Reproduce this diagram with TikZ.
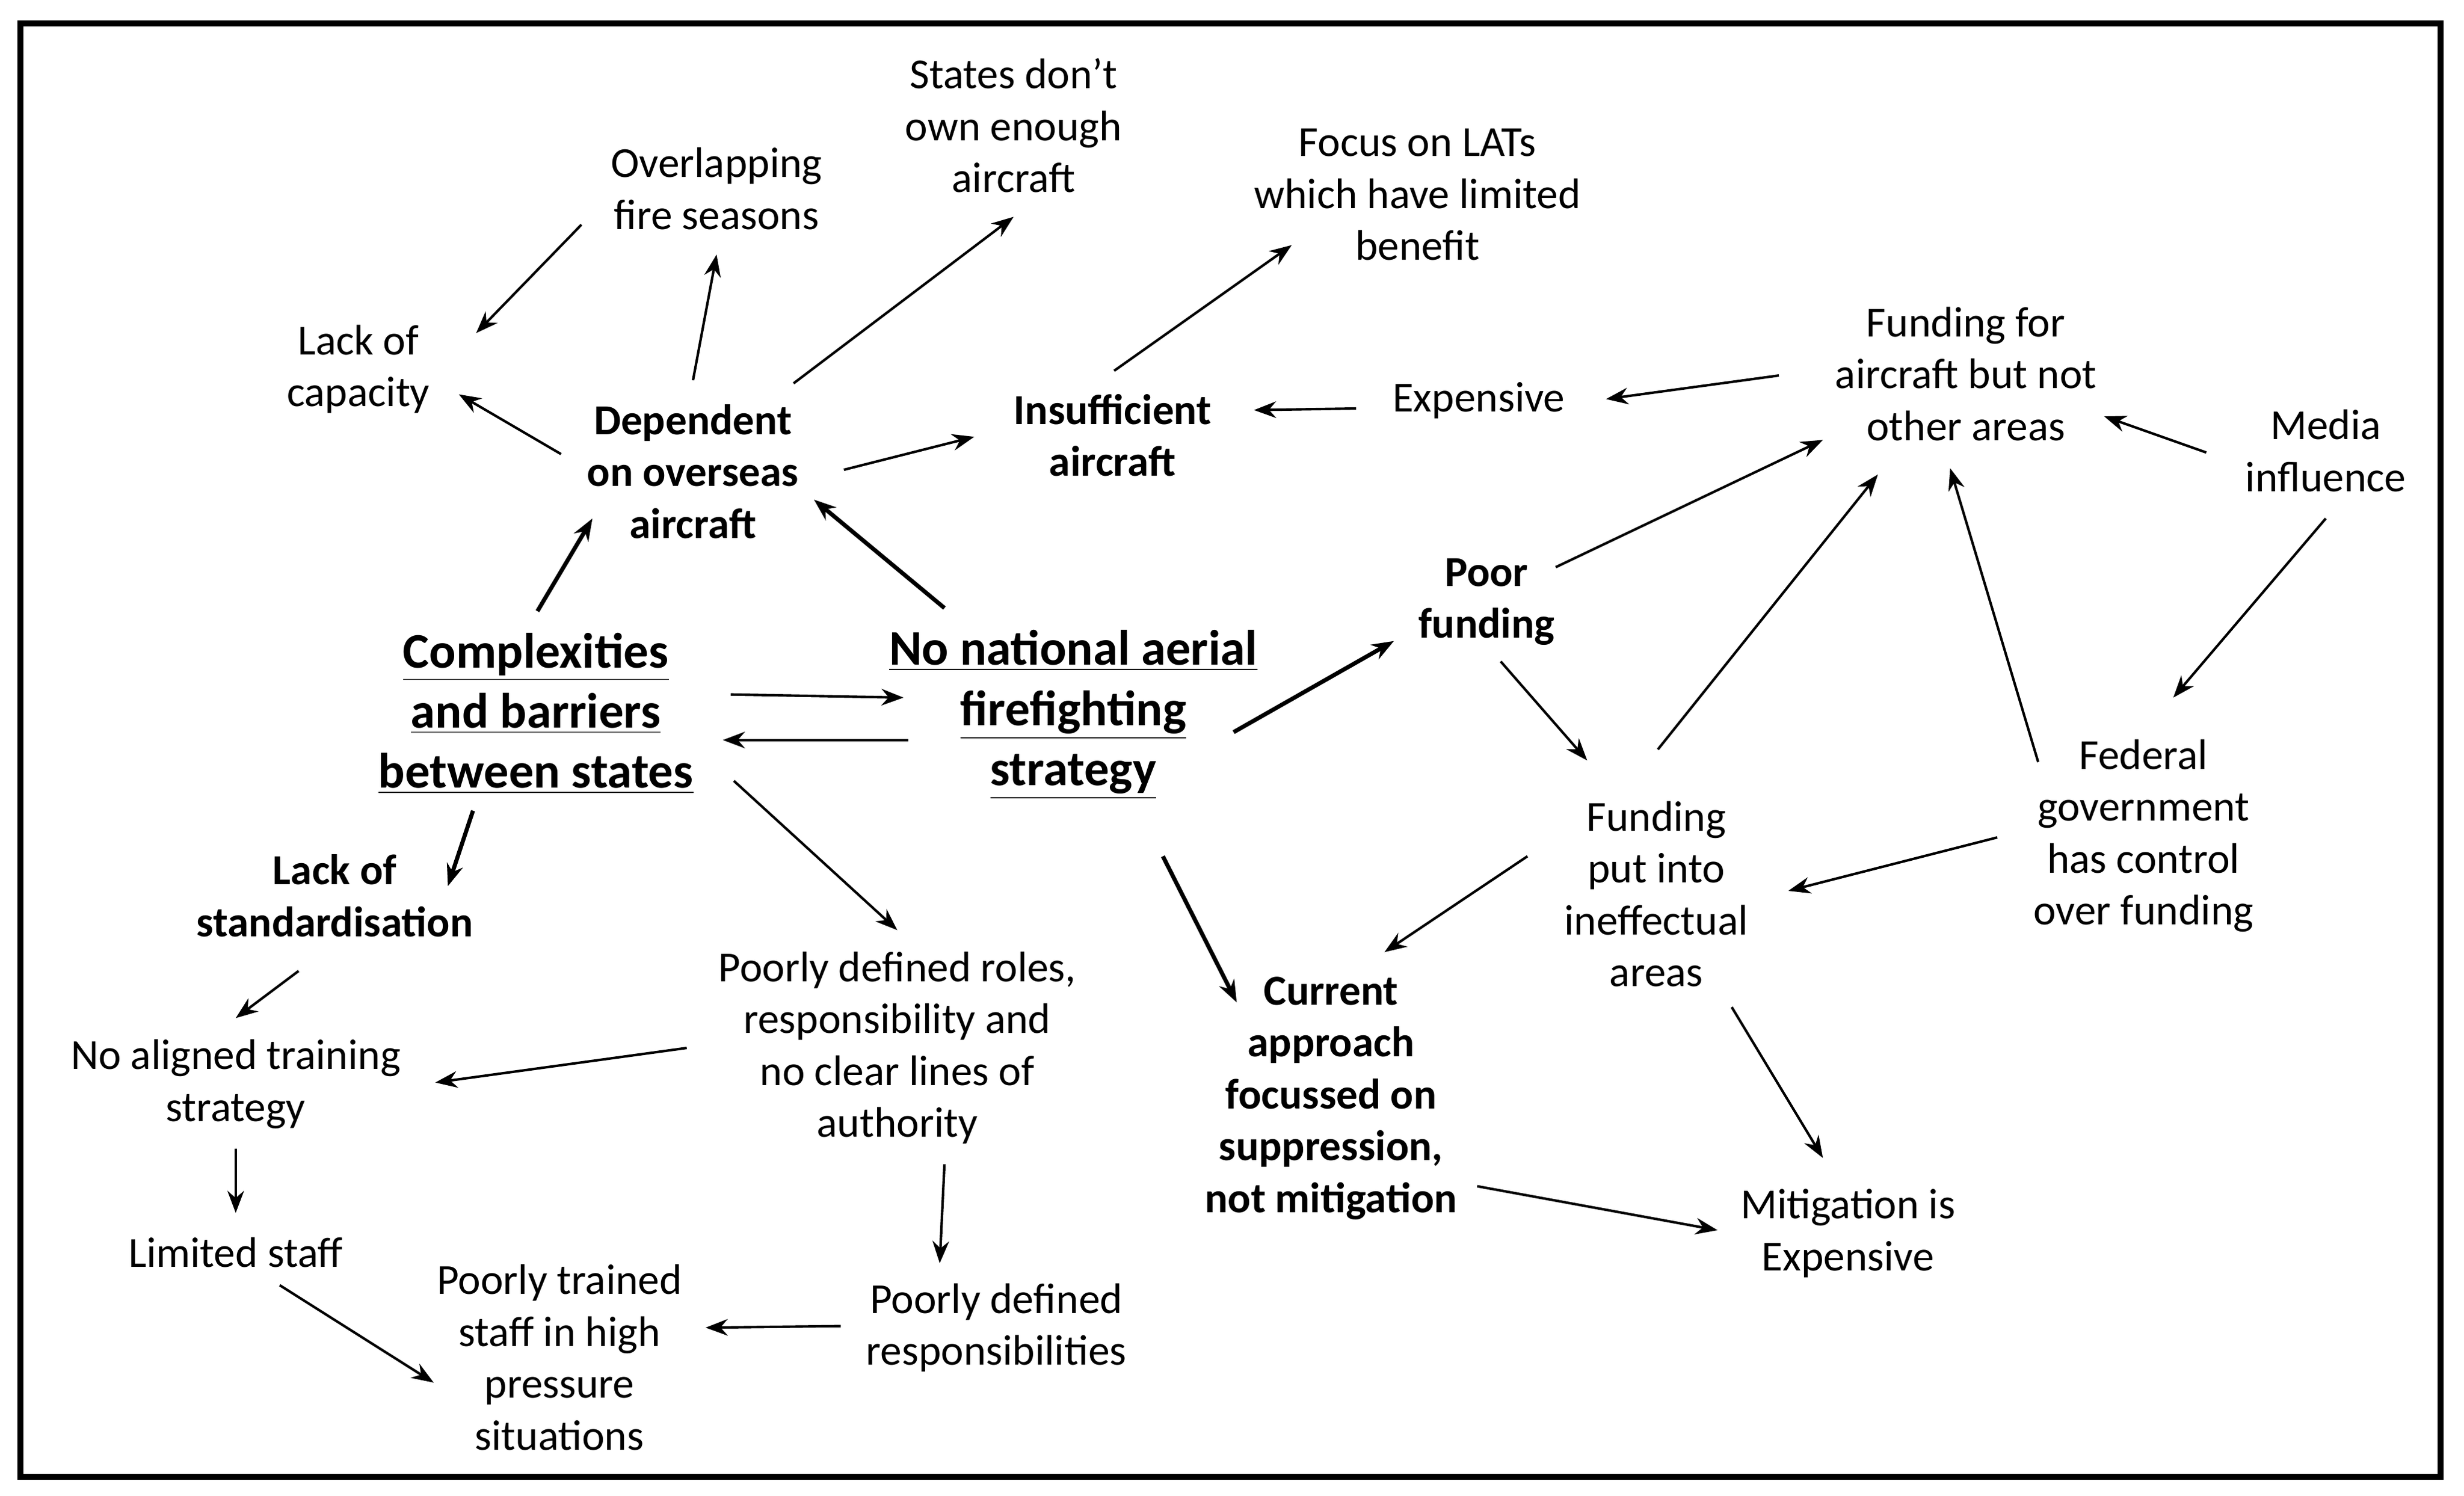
\documentclass[tikz,border=0pt]{standalone}
\usepackage{fontspec}
\setmainfont{Carlito}
\usetikzlibrary{arrows.meta}
\newcommand{\conn}[5][ar]{%
  \coordinate (#2s) at #4; \coordinate (#3e) at #5;
  \draw[#1] (#2s) -- (#3e);}
\begin{document}
\begin{tikzpicture}[x=0.2mm,y=-0.2mm,
  every node/.style={align=center,inner sep=3pt,font=\fontsize{15.5}{18.8}\selectfont},
  b/.style={font=\fontsize{15.5}{18.8}\selectfont\bfseries},
  big/.style={font=\fontsize{18}{21.8}\selectfont\bfseries},
  ar/.style={-{Stealth[length=8pt,width=6pt]},line width=0.9pt},
  tk/.style={ar,line width=1.5pt}]
\useasboundingbox (0,0) rectangle (1568,952);
\draw[line width=2.2pt] (13,15) rectangle (1553,940);
\node[big] (cx) at (341,454) {\underline{Complexities}\\\underline{and barriers}\\\underline{between states}};
\node[big] (nn) at (683,455) {\underline{No national aerial}\\\underline{firefighting}\\\underline{strategy}};
\node[b] (dep) at (441,300) {Dependent\\on overseas\\aircraft};
\node (ov) at (456,120) {Overlapping\\fire seasons};
\node (st) at (645,80) {States don’t\\own enough\\aircraft};
\node (lc) at (228,235) {Lack of\\capacity};
\node[b] (ins) at (708,277) {Insufficient\\aircraft};
\node (foc) at (902,124) {Focus on LATs\\which have limited\\benefit};
\node (exp) at (941,255) {Expensive};
\node (ff) at (1251,238) {Funding for\\aircraft but not\\other areas};
\node (med) at (1480,287) {Media\\influence};
\node[b] (pf) at (946,383) {Poor\\funding};
\node (fp) at (1054,569) {Funding\\put into\\ineffectual\\areas};
\node (fed) at (1364,532) {Federal\\government\\has control\\over funding};
\node[b] (cur) at (847,699) {Current\\approach\\focussed on\\suppression,\\not mitigation};
\node (mit) at (1176,785) {Mitigation is\\Expensive};
\node[b] (ls) at (213,570) {Lack of\\standardisation};
\node (na) at (150,690) {No aligned training\\strategy};
\node (lim) at (150,797) {Limited staff};
\node (pt) at (356,864) {Poorly trained\\staff in high\\pressure\\situations};
\node (pr) at (571,667) {Poorly defined roles,\\responsibility and\\no clear lines of\\authority};
\node (pd) at (634,845) {Poorly defined\\responsibilities};

\conn{ov}{lc}{(370,143)}{(303,212)}
\conn{dep}{ov}{(441,242)}{(456,162)}
\conn{dep}{st}{(505,244)}{(645,138)}
\conn{dep}{lc}{(357,289)}{(292,251)}
\conn{dep}{ins}{(537,299)}{(620,278)}
\conn{ins}{foc}{(709,236)}{(822,156)}
\conn{exp}{ins}{(863,260)}{(798,261)}
\conn{ff}{exp}{(1132,239)}{(1022,254)}
\conn{med}{ff}{(1404,288)}{(1339,265)}
\conn{med}{fed}{(1480,330)}{(1383,444)}
\conn{pf}{ff}{(990,361)}{(1160,280)}
\conn{pf}{fp}{(955,421)}{(1010,484)}
\conn{fp}{ff}{(1055,477)}{(1195,302)}
\conn{fed}{ff}{(1297,485)}{(1241,298)}
\conn{fed}{fp}{(1271,533)}{(1138,567)}
\conn{fp}{cur}{(972,545)}{(881,606)}
\conn{fp}{mit}{(1102,641)}{(1160,737)}
\conn{cur}{mit}{(940,755)}{(1093,783)}
\conn[tk]{nn}{cur}{(740,545)}{(787,638)}
\conn[tk]{nn}{pf}{(785,466)}{(887,408)}
\conn[tk]{nn}{dep}{(601,387)}{(518,318)}
\conn[tk]{cx}{dep}{(342,389)}{(377,330)}
\conn{cx}{nn}{(465,442)}{(575,444)}
\conn{nn}{cx}{(578,471)}{(460,471)}
\conn[tk]{cx}{ls}{(301,516)}{(285,564)}
\conn{cx}{pr}{(467,497)}{(571,592)}
\conn{ls}{na}{(190,618)}{(150,648)}
\conn{pr}{na}{(437,667)}{(277,689)}
\conn{na}{lim}{(150,731)}{(150,772)}
\conn{lim}{pt}{(178,818)}{(276,880)}
\conn{pr}{pd}{(601,741)}{(598,804)}
\conn{pd}{pt}{(535,844)}{(449,845)}
\end{tikzpicture}
\end{document}
